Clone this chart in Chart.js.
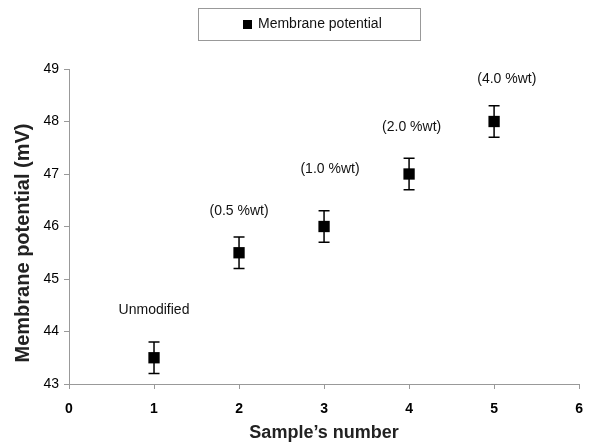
<!DOCTYPE html>
<html>
<head>
<meta charset="utf-8">
<script src="https://cdn.jsdelivr.net/npm/chart.js@4/dist/chart.umd.min.js"></script>
<style>
  html, body { margin: 0; padding: 0; background: #fff; }
  #wrap { width: 595px; height: 444px; }
</style>
</head>
<body>
<div id="wrap"><canvas id="membrane"></canvas></div>
<script>
// values
const samples = [1, 2, 3, 4, 5];
const potential = [43.5, 45.5, 46.0, 47.0, 48.0];
const errors = [0.3, 0.3, 0.3, 0.3, 0.3];
const notes = ['Unmodified', '(0.5 %wt)', '(1.0 %wt)', '(2.0 %wt)', '(4.0 %wt)'];
const noteY = [44.4, 46.3, 47.1, 47.9, 48.8];
const noteX = [1.0, 2.0, 3.07, 4.03, 5.15];
const yTitle = 'Membrane potential (mV)';

const fontName = '"Liberation Sans", Arial, sans-serif';

// whiskers, text notes, y title and boxed legend
const extras = {
  id: 'extras',
  beforeDatasetsDraw(chart) {
    const ctx = chart.ctx;
    const xs = chart.scales.x, ys = chart.scales.y;
    ctx.save();
    ctx.strokeStyle = '#000';
    ctx.lineWidth = 1.5;
    samples.forEach((s, i) => {
      const px = xs.getPixelForValue(s);
      const top = ys.getPixelForValue(potential[i] + errors[i]);
      const bot = ys.getPixelForValue(potential[i] - errors[i]);
      ctx.beginPath();
      ctx.moveTo(px, top); ctx.lineTo(px, bot);
      ctx.moveTo(px - 5.5, top); ctx.lineTo(px + 5.5, top);
      ctx.moveTo(px - 5.5, bot); ctx.lineTo(px + 5.5, bot);
      ctx.stroke();
    });
    ctx.restore();
  },
  afterDatasetsDraw(chart) {
    const ctx = chart.ctx;
    const xs = chart.scales.x, ys = chart.scales.y;
    ctx.save();
    ctx.fillStyle = '#111';
    ctx.font = '14px ' + fontName;
    ctx.textAlign = 'center';
    ctx.textBaseline = 'middle';
    notes.forEach((t, i) => {
      ctx.fillText(t, xs.getPixelForValue(noteX[i]), ys.getPixelForValue(noteY[i]));
    });
    ctx.restore();
  },
  afterDraw(chart) {
    const ctx = chart.ctx;
    ctx.save();
    // y axis title, sits a bit below the middle like the original
    ctx.translate(23, 243);
    ctx.rotate(-Math.PI / 2);
    ctx.font = 'bold 20px ' + fontName;
    ctx.fillStyle = '#222';
    ctx.textAlign = 'center';
    ctx.textBaseline = 'middle';
    ctx.fillText(yTitle, 0, 0);
    ctx.restore();

    ctx.save();
    ctx.strokeStyle = '#999';
    ctx.lineWidth = 1;
    ctx.strokeRect(198.5, 8.5, 222, 32);
    ctx.fillStyle = '#000';
    ctx.fillRect(243, 20, 9, 9);
    ctx.font = '14px ' + fontName;
    ctx.textBaseline = 'middle';
    ctx.fillStyle = '#111';
    ctx.fillText(chart.data.datasets[0].label, 258, 24.5);
    ctx.restore();
  }
};

new Chart(document.getElementById('membrane'), {
  type: 'scatter',
  data: {
    datasets: [{
      label: 'Membrane potential',
      data: samples.map((s, i) => ({ x: s, y: potential[i] })),
      pointStyle: 'rect',
      pointRadius: 8,
      pointHoverRadius: 8,
      backgroundColor: '#000',
      borderColor: '#000',
      borderWidth: 0
    }]
  },
  options: {
    responsive: true,
    maintainAspectRatio: false,
    animation: false,
    layout: { padding: { top: 69, right: 12, left: 0, bottom: 0 } },
    plugins: {
      legend: { display: false },
      tooltip: { enabled: false }
    },
    scales: {
      x: {
        type: 'linear',
        min: 0, max: 6,
        ticks: { stepSize: 1, color: '#000', font: { family: fontName, size: 14, weight: 'bold' }, padding: 12 },
        grid: { drawOnChartArea: false, tickLength: 5, color: '#999' },
        border: { color: '#999' },
        title: { display: true, text: 'Sample’s number', color: '#222', font: { family: fontName, size: 18, weight: 'bold' }, padding: { top: 0, bottom: 0 } },
        afterFit(scale) { scale.height = 60; }
      },
      y: {
        min: 43, max: 49,
        ticks: { stepSize: 1, color: '#000', font: { family: fontName, size: 14 }, padding: 5 },
        grid: { drawOnChartArea: false, tickLength: 5, color: '#999' },
        border: { color: '#999' },
        title: { display: false },
        afterFit(scale) { scale.width = 69; }
      }
    }
  },
  plugins: [extras]
});
</script>
</body>
</html>
